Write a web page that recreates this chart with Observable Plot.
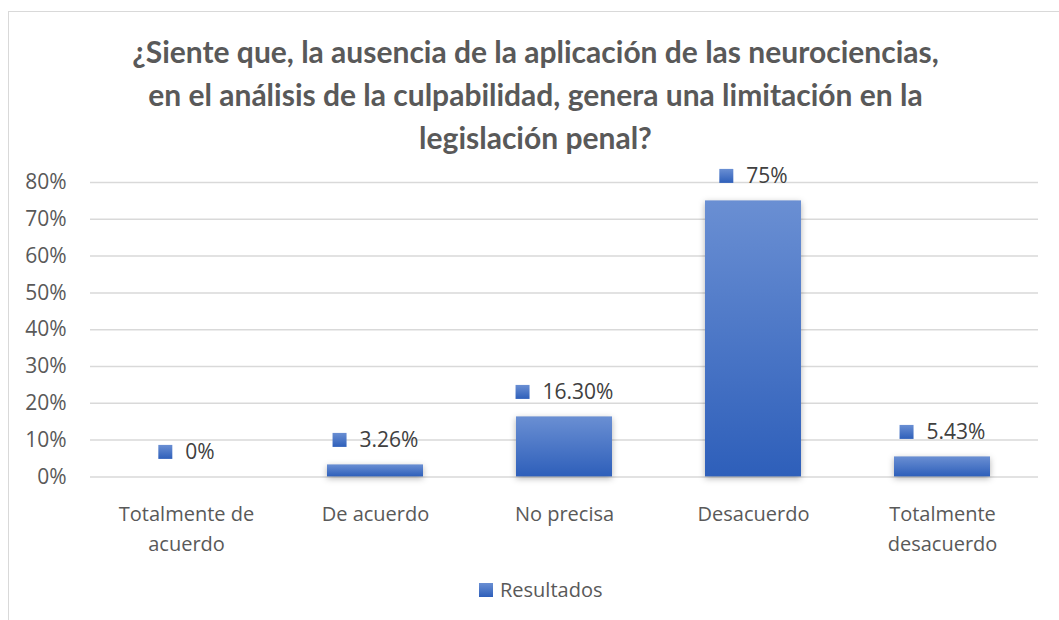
<!DOCTYPE html>
<html><head><meta charset="utf-8">
<script src="https://cdn.jsdelivr.net/npm/d3@7"></script>
<script src="https://cdn.jsdelivr.net/npm/@observablehq/plot@0.6"></script>
<style>
html,body{margin:0;padding:0;background:#fff;overflow:hidden;}
#wrap{position:relative;width:1059px;height:620px;overflow:hidden;font-family:"Open Sans",sans-serif;}
#frame{position:absolute;left:8px;top:11px;width:1200px;height:800px;border:1.5px solid #d9d9d9;box-sizing:border-box;}
#title{position:absolute;left:8px;width:1055px;top:30px;text-align:center;font-family:Lato,sans-serif;font-weight:700;font-size:30px;line-height:43px;color:#595959;}
#chart{position:absolute;left:0;top:160px;}
#legend{position:absolute;left:479px;top:576px;display:flex;align-items:center;font-size:20px;line-height:28px;color:#595959;}
#legend .sw{width:14px;height:14px;background:linear-gradient(#6a8fd3,#2e5fba);margin-right:7px;}
svg g[aria-label="bar"]{filter:drop-shadow(0px 2px 3px rgba(0,0,0,0.3));}
</style></head><body>
<div id="wrap">
<div id="frame"></div>
<div id="title"></div>
<div id="chart"></div>
<div id="legend"><span class="sw"></span><span id="legendText"></span></div>
</div>
<script>
const titleLines = [
  "¿Siente que, la ausencia de la aplicación de las neurociencias,",
  "en el análisis de la culpabilidad, genera una limitación en la",
  "legislación penal?"
];
const categories = ["Totalmente de acuerdo","De acuerdo","No precisa","Desacuerdo","Totalmente desacuerdo"];
const xTickLabels = ["Totalmente de\nacuerdo","De acuerdo","No precisa","Desacuerdo","Totalmente\ndesacuerdo"];
const values = [0, 0.0326, 0.163, 0.75, 0.0543];
const valueLabels = ["0%","3.26%","16.30%","75%","5.43%"];
const yTicks = [0, 0.1, 0.2, 0.3, 0.4, 0.5, 0.6, 0.7, 0.8];
const seriesName = "Resultados";

document.getElementById("title").innerHTML = titleLines.join("<br>");
document.getElementById("legendText").textContent = seriesName;

const data = categories.map((c, i) => ({cat: c, value: values[i], label: valueLabels[i]}));

const ctx = document.createElement("canvas").getContext("2d");
ctx.font = "21px 'Open Sans'";
const sq = 14, gap = 13, lift = -25;
const labelMarks = data.flatMap(d => {
  const tw = ctx.measureText(d.label).width;
  const left = -(sq + gap + tw) / 2;
  return [
    Plot.dot([d], {x: "cat", y: "value", dy: lift, dx: left + sq / 2, symbol: "square",
      r: sq / Math.sqrt(Math.PI), fill: "url(#barGrad)"}),
    Plot.text([d], {x: "cat", y: "value", dy: lift, dx: left + sq + gap, text: "label",
      textAnchor: "start", fill: "#404040", fontSize: 21})
  ];
});

const svg = Plot.plot({
  width: 1059,
  height: 400,
  marginLeft: 90,
  marginRight: 21,
  marginTop: 22,
  marginBottom: 83.6,
  style: {fontFamily: "'Open Sans', sans-serif", color: "#595959", background: "transparent"},
  x: {domain: categories, paddingInner: 0.49, paddingOuter: 0.245},
  y: {domain: [0, 0.8]},
  marks: [
    Plot.ruleY(yTicks, {stroke: "#d9d9d9", strokeWidth: 1.5}),
    Plot.axisY({ticks: yTicks, tickFormat: d3.format(".0%"), tickSize: 0, tickPadding: 24, fontSize: 21, label: null}),
    Plot.axisX({tickSize: 0, tickPadding: 23, fontSize: 20, lineHeight: 1.5, label: null,
      tickFormat: c => xTickLabels[categories.indexOf(c)]}),
    Plot.barY(data, {x: "cat", y: "value", fill: "url(#barGrad)"}),
    ...labelMarks
  ]
});

const defs = d3.select(svg).insert("defs", ":first-child");
const g = defs.append("linearGradient").attr("id", "barGrad")
  .attr("x1", 0).attr("y1", 0).attr("x2", 0).attr("y2", 1);
g.append("stop").attr("offset", "0%").attr("stop-color", "#6a8fd3");
g.append("stop").attr("offset", "100%").attr("stop-color", "#2e5fba");

document.getElementById("chart").appendChild(svg);
</script>
</body></html>
